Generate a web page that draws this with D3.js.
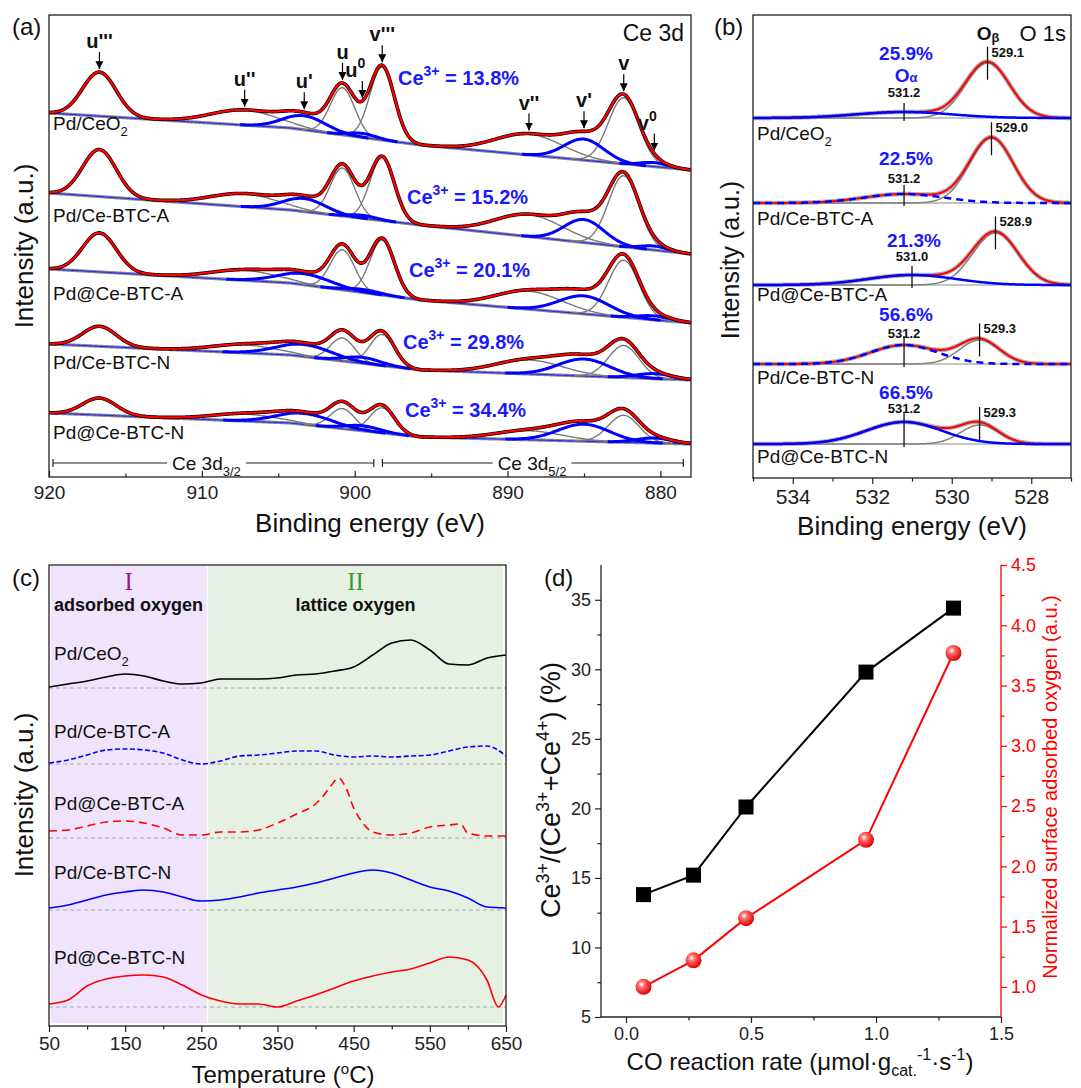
<!DOCTYPE html>
<html>
<head>
<meta charset="utf-8">
<script src="https://cdn.jsdelivr.net/npm/d3@7"></script>
<style>
  body { margin: 0; background: #fff; }
  svg text { font-family: "Liberation Sans", Arial, sans-serif; }
</style>
</head>
<body>
<svg id="fig" width="1081" height="1088"></svg>
<script>
// ---------------- data ----------------
var samples = ["Pd/CeO2", "Pd/Ce-BTC-A", "Pd@Ce-BTC-A", "Pd/Ce-BTC-N", "Pd@Ce-BTC-N"];

// (a) Ce 3d fitted peaks: centre (eV), width sigma (eV), height (a.u.)
var cePeakLabels = ["u'''", "u''", "u'", "u", "u0", "v'''", "v''", "v'", "v", "v0"];
var cePeakCenters = [916.7, 907.2, 903.3, 900.8, 899.5, 898.2, 888.6, 885.0, 882.4, 880.4];
var cePeakWidths = [1.1, 2.2, 1.4, 0.8, 0.9, 0.8, 2.2, 1.3, 1.0, 0.9];
var cePeakIsCe3 = [0, 0, 1, 0, 1, 0, 0, 1, 0, 1];
var ceHeights = [
  [44, 15, 14, 47, 4, 73, 21, 21, 66, 4],
  [47, 13, 13, 48, 3, 63, 22, 23, 71, 4],
  [39, 10, 11, 40, 3, 55, 18, 18, 57, 4],
  [20,  8, 12, 23, 6, 31, 14, 17, 32, 5],
  [17,  7, 11, 20, 5, 25,  9, 17, 27, 5]
];
var ce3Broadening = [1.0, 1.0, 1.25, 1.3, 1.3];
var ceBaselineEnergy = [920, 904.2, 895.7, 878];
var ceBaselines = [
  [364, 349, 332, 307],
  [284, 267, 252, 223],
  [208, 194, 177, 154],
  [133, 122, 107, 97],
  [64, 54, 40, 33]
];
var ce3Percent = [13.8, 15.2, 20.1, 29.8, 34.4];

// (b) O 1s fitted peaks
var oAlphaPercent = [25.9, 22.5, 21.3, 56.6, 66.5];
var oAlphaCenters = [531.2, 531.2, 531.0, 531.2, 531.2];
var oAlphaHeights = [6, 9, 10, 19, 22];
var oAlphaWidths = [1.2, 1.0, 1.1, 0.85, 0.95];
var oBetaCenters = [529.1, 529.0, 528.9, 529.3, 529.3];
var oBetaHeights = [55, 65, 52, 24, 19];
var oBetaWidths = [0.55, 0.55, 0.57, 0.5, 0.48];
var oBaselines = [360, 275, 193, 114, 34];

// (c) O2-TPD, signal above each baseline
var tprTemp = [50, 75, 100, 125, 150, 175, 200, 225, 250, 275, 300, 325, 350, 375, 400, 425, 450, 475, 500, 525, 550, 575, 600, 625, 650];
var tprTempS3 = [50, 75, 100, 125, 150, 175, 200, 225, 250, 275, 300, 325, 350, 375, 400, 410, 420, 430, 440, 450, 460, 475, 500, 525, 550, 575, 590, 600, 625, 650];
var tprTempS5 = [50, 75, 100, 125, 150, 175, 200, 225, 250, 275, 300, 325, 350, 375, 400, 425, 450, 475, 500, 525, 550, 575, 600, 625, 640, 650];
var tprS1 = [1, 4, 7, 11, 14, 12, 7, 4, 5, 9, 9, 9, 10, 13, 14, 17, 21, 33, 45, 48, 38, 24, 23, 30, 33];
var tprS2 = [1, 4, 9, 14, 15, 14, 11, 4, 0, 3, 8, 9, 11, 13, 13, 9, 7, 8, 7, 8, 9, 13, 17, 18, 8];
var tprS3 = [7, 8, 12, 16, 17, 15, 10, 3, 3, 6, 6, 8, 15, 24, 34, 42, 52, 60, 50, 30, 17, 6, 3, 5, 11, 13, 14, 5, 2, 2];
var tprS4 = [2, 5, 10, 15, 18, 20, 18, 13, 9, 10, 13, 17, 20, 23, 27, 32, 37, 40, 37, 30, 23, 19, 12, 3, 2];
var tprS5 = [3, 7, 21, 28, 31, 32, 30, 22, 12, 6, 3, 3, 0, 6, 12, 19, 26, 31, 35, 38, 44, 50, 47, 27, 0, 12];
var tprBaselines = [338, 262, 188, 116, 19];
var tprRegionBounds = [[52, 257], [259, 646]];
var tprRegionNames = ["I", "II"];
var tprRegionTitles = ["adsorbed oxygen", "lattice oxygen"];

// (d) correlation
var coRate = [0.07, 0.27, 0.48, 0.96, 1.31];
var ce3Ratio = [13.8, 15.2, 20.1, 29.8, 34.4];
var adsorbedOxygen = [1.0, 1.22, 1.57, 2.22, 3.77];

// ticks
var ceTicks = [920, 910, 900, 890, 880], ceMinor = [915, 905, 895, 885];
var oTicks = [534, 532, 530, 528], oMinor = [535, 533, 531, 529, 527];
var tprTicks = [50, 150, 250, 350, 450, 550, 650], tprMinor = [100, 200, 300, 400, 500, 600];
var rateTicks = [0.0, 0.5, 1.0, 1.5], rateMinor = [0.25, 0.75, 1.25];
var ratioTicks = [5, 10, 15, 20, 25, 30, 35], ratioMinor = [7.5, 12.5, 17.5, 22.5, 27.5, 32.5];
var oxyTicks = [1.0, 1.5, 2.0, 2.5, 3.0, 3.5, 4.0, 4.5], oxyMinor = [1.25, 1.75, 2.25, 2.75, 3.25, 3.75, 4.25];

// ---------------- helpers ----------------
var svg = d3.select("#fig");
var defs = svg.append("defs");
defs.append("marker").attr("id", "arrowA").attr("viewBox", "0 0 10 10")
  .attr("refX", 10).attr("refY", 5).attr("markerWidth", 8).attr("markerHeight", 8)
  .attr("markerUnits", "userSpaceOnUse").attr("orient", "auto")
  .append("path").attr("d", "M0,0L10,5L0,10z").attr("fill", "#000");
var grad = defs.append("radialGradient").attr("id", "ball").attr("cx", "38%").attr("cy", "35%").attr("r", "65%");
grad.append("stop").attr("offset", "0%").attr("stop-color", "#ffffff");
grad.append("stop").attr("offset", "30%").attr("stop-color", "#ff7070");
grad.append("stop").attr("offset", "100%").attr("stop-color", "#e00000");

function gauss(x, c, h, s) { var d = x - c; return h * Math.exp(-d * d / (2 * s * s)); }

function rich(sel, parts) {
  var cur = 0;
  parts.forEach(function (p) {
    var off = p.sup ? -p.sup : (p.sub ? p.sub : 0);
    var ts = sel.append("tspan").text(p.t).attr("dy", off - cur);
    if (p.size) ts.attr("font-size", p.size);
    cur = off;
  });
  return sel;
}

function sampleText(g, x, y, name, size) {
  var t = g.append("text").attr("x", x).attr("y", y).attr("font-size", size).attr("fill", "#111");
  if (name === "Pd/CeO2") rich(t, [{t: "Pd/CeO"}, {t: "2", sub: 6, size: 13}]);
  else t.text(name);
}

function axis(g, maker, scale, major, minor, size, pad, fmt, fs, color) {
  var a = g.append("g").call(maker(scale).tickValues(major).tickSize(size).tickPadding(pad).tickFormat(fmt));
  var b = g.append("g").call(maker(scale).tickValues(minor).tickSize(size * 0.6).tickFormat(""));
  [a, b].forEach(function (s) {
    s.attr("color", color);
    s.select(".domain").remove();
    s.selectAll("line").attr("stroke-width", 1.2);
  });
  a.attr("font-size", fs);
  return a;
}

function frame(x0, y0, x1, y1) {
  svg.append("rect").attr("x", x0).attr("y", y0).attr("width", x1 - x0).attr("height", y1 - y0)
    .attr("fill", "none").attr("stroke", "#222").attr("stroke-width", 1.3);
}

function vTitle(x, y, str, size, color) {
  svg.append("text").attr("transform", "translate(" + x + "," + y + ") rotate(-90)")
    .attr("text-anchor", "middle").attr("dy", "0.35em").attr("font-size", size)
    .attr("fill", color || "#111").text(str);
}

// ---------------- (a) Ce 3d ----------------
var ax = d3.scaleLinear().domain([920, 878]).range([49, 691]);
var ay = d3.scaleLinear().domain([0, 462]).range([477, 15]);
var gA = svg.append("g");
var eA = d3.range(0, 841).map(function (i) { return 920 - i * 0.05; });
var lineA = d3.line().x(function (d) { return ax(d[0]); }).y(function (d) { return ay(d[1]); });
var ceEnvelopes = [];

samples.forEach(function (name, si) {
  var base = d3.scaleLinear().domain(ceBaselineEnergy).range(ceBaselines[si]);
  var bl = eA.map(function (e) { return [e, base(e)]; });
  var comps = cePeakCenters.map(function (c, pi) {
    var s = cePeakWidths[pi] * (cePeakIsCe3[pi] ? ce3Broadening[si] : 1);
    return eA.map(function (e) { var g = gauss(e, c, ceHeights[si][pi], s); return [e, base(e) + g, g]; });
  });
  var env = eA.map(function (e, k) {
    return [e, base(e) + d3.sum(comps, function (cc) { return cc[k][2]; })];
  });
  ceEnvelopes.push(env);

  gA.append("path").datum(bl).attr("d", lineA).attr("fill", "none").attr("stroke", "#8c8c8c").attr("stroke-width", 3.2);
  gA.append("path").datum(bl).attr("d", lineA).attr("fill", "none").attr("stroke", "#2a2aff").attr("stroke-width", 1.1);
  var lineC = d3.line().defined(function (d) { return d[2] > 0.15; })
    .x(function (d) { return ax(d[0]); }).y(function (d) { return ay(d[1]); });
  comps.forEach(function (cc, pi) {
    if (cePeakIsCe3[pi]) return;
    gA.append("path").datum(cc).attr("d", lineC).attr("fill", "none").attr("stroke", "#7a7a7a").attr("stroke-width", 1.4);
  });
  comps.forEach(function (cc, pi) {
    if (!cePeakIsCe3[pi]) return;
    gA.append("path").datum(cc).attr("d", lineC).attr("fill", "none").attr("stroke", "#0000ff").attr("stroke-width", 3);
  });
  gA.append("path").datum(env).attr("d", lineA).attr("fill", "none").attr("stroke", "#000").attr("stroke-width", 3.6);
  gA.append("path").datum(env).attr("d", lineA).attr("fill", "none").attr("stroke", "#ff0000").attr("stroke-width", 2.2);
});

// peak arrows on the top spectrum
cePeakCenters.forEach(function (c, pi) {
  var k = Math.round((920 - c) / 0.05);
  var yEnd = ay(ceEnvelopes[0][k][1]) - 3;
  var x = ax(c);
  gA.append("line").attr("x1", x).attr("x2", x).attr("y1", yEnd - 17).attr("y2", yEnd)
    .attr("stroke", "#000").attr("stroke-width", 1.2).attr("marker-end", "url(#arrowA)");
  var lab = cePeakLabels[pi];
  var t = gA.append("text").attr("y", yEnd - 21)
    .attr("font-size", 20).attr("font-weight", "bold").attr("fill", "#111");
  if (lab.slice(-1) === "0") {
    t.attr("x", x - 7).attr("text-anchor", "middle");
    rich(t, [{t: lab[0]}, {t: "0", sup: 9, size: 14}]);
  } else t.attr("x", x).attr("text-anchor", "middle").text(lab);
});

var aLabelY = [123, 215, 293, 362, 432];
var aCe3Pos = [[398, 85], [407, 204], [409, 277], [403, 349], [405, 417]];
samples.forEach(function (name, si) {
  sampleText(gA, 53, aLabelY[si] + 7, name, 19);
  var t = gA.append("text").attr("x", aCe3Pos[si][0]).attr("y", aCe3Pos[si][1])
    .attr("font-size", 20).attr("font-weight", "bold").attr("fill", "#1a1aff");
  rich(t, [{t: "Ce"}, {t: "3+", sup: 9, size: 14}, {t: " = " + ce3Percent[si].toFixed(1) + "%"}]);
});

// Ce 3d3/2 / 3d5/2 brackets
[[920, 898.75, 909.7, "3/2"], [898.45, 878.5, 888.4, "5/2"]].forEach(function (b) {
  var x0 = ax(b[0]) + 4, x1 = ax(b[1]), y = 463;
  gA.append("line").attr("x1", x0).attr("x2", x1).attr("y1", y).attr("y2", y).attr("stroke", "#222").attr("stroke-width", 1.2);
  [x0, x1].forEach(function (xx) {
    gA.append("line").attr("x1", xx).attr("x2", xx).attr("y1", y - 4).attr("y2", y + 4).attr("stroke", "#222").attr("stroke-width", 1.2);
  });
  var t = gA.append("text").attr("x", ax(b[2])).attr("y", y + 7).attr("text-anchor", "middle")
    .attr("font-size", 19).attr("fill", "#111");
  rich(t, [{t: "Ce 3d"}, {t: b[3], sub: 6, size: 13}]);
  var bb = t.node().getBBox();
  gA.insert("rect", "text:last-child").attr("x", bb.x - 5).attr("y", y - 3).attr("width", bb.width + 10).attr("height", 6).attr("fill", "#fff");
});

frame(49, 15, 691, 477);
axis(svg.append("g").attr("transform", "translate(0,477)"), d3.axisBottom, ax, ceTicks, ceMinor, -6, 9, d3.format("d"), 19, "#222");
svg.append("text").attr("x", 684).attr("y", 41).attr("text-anchor", "end").attr("font-size", 23).attr("fill", "#111").text("Ce 3d");
svg.append("text").attr("x", 12).attr("y", 35).attr("font-size", 24).attr("fill", "#111").text("(a)");
vTitle(24, 246, "Intensity (a.u.)", 26);
svg.append("text").attr("x", 370).attr("y", 532).attr("text-anchor", "middle").attr("font-size", 26).attr("fill", "#111").text("Binding energy (eV)");

// ---------------- (b) O 1s ----------------
var bx = d3.scaleLinear().domain([535, 527]).range([753, 1071]);
var by = d3.scaleLinear().domain([0, 463]).range([478, 15]);
var gB = svg.append("g");
var eB = d3.range(0, 401).map(function (i) { return 535 - i * 0.02; });
var lineB = d3.line().x(function (d) { return bx(d[0]); }).y(function (d) { return by(d[1]); });
var bLabelY = [133, 218, 294, 377, 456];
var bPctY = [53, 158, 240, 314, 392];
var bNumY = [92, 178, 256, 333, 408];

samples.forEach(function (name, si) {
  var b0 = oBaselines[si];
  var alpha = eB.map(function (e) { return [e, b0 + gauss(e, oAlphaCenters[si], oAlphaHeights[si], oAlphaWidths[si])]; });
  var beta = eB.map(function (e) { return [e, b0 + gauss(e, oBetaCenters[si], oBetaHeights[si], oBetaWidths[si])]; });
  var env = eB.map(function (e, k) { return [e, alpha[k][1] + beta[k][1] - b0]; });

  gB.append("path").datum([[535, b0], [527, b0]]).attr("d", lineB).attr("stroke", "#8c8c8c").attr("stroke-width", 1.2);
  gB.append("path").datum(env).attr("d", lineB).attr("fill", "none").attr("stroke", "#b0b0b0").attr("stroke-width", 4.5);
  gB.append("path").datum(beta).attr("d", lineB).attr("fill", "none").attr("stroke", "#808080").attr("stroke-width", 1.5);
  gB.append("path").datum(env).attr("d", lineB).attr("fill", "none").attr("stroke", "#ff0000").attr("stroke-width", 2);
  var pa = gB.append("path").datum(alpha).attr("d", lineB).attr("fill", "none").attr("stroke", "#0000ff").attr("stroke-width", 2.5);
  if (si === 1 || si === 3) pa.attr("stroke-dasharray", "7,5");

  // peak markers
  var kA = Math.round((535 - oAlphaCenters[si]) / 0.02);
  var kB = Math.round((535 - oBetaCenters[si]) / 0.02);
  var xa = bx(oAlphaCenters[si]), xb = bx(oBetaCenters[si]);
  var yA = by(env[kA][1]), yB = by(env[kB][1]), yBase = by(b0);
  gB.append("line").attr("x1", xa).attr("x2", xa).attr("y1", yA - 9).attr("y2", yBase + 3).attr("stroke", "#111").attr("stroke-width", 1.3);
  var topB = yB - 15;
  gB.append("line").attr("x1", xb).attr("x2", xb).attr("y1", topB).attr("y2", Math.min(yB + 18, yBase + 3)).attr("stroke", "#111").attr("stroke-width", 1.3);
  gB.append("text").attr("x", xb + 4).attr("y", topB + 10).attr("font-size", 13).attr("font-weight", "bold").attr("fill", "#111")
    .text(oBetaCenters[si].toFixed(1));
  gB.append("text").attr("x", xa).attr("y", bNumY[si] + 5).attr("text-anchor", "middle").attr("font-size", 13).attr("font-weight", "bold").attr("fill", "#111")
    .text(oAlphaCenters[si].toFixed(1));
  gB.append("text").attr("x", xa + 2).attr("y", bPctY[si] + 7).attr("text-anchor", "middle").attr("font-size", 19).attr("font-weight", "bold").attr("fill", "#1a1aff")
    .text(oAlphaPercent[si].toFixed(1) + "%");
  sampleText(gB, 757, bLabelY[si] + 7, name, 19);
});
var ta = gB.append("text").attr("x", bx(531.2) + 2).attr("y", 82).attr("text-anchor", "middle").attr("font-size", 19).attr("font-weight", "bold").attr("fill", "#1a1aff");
rich(ta, [{t: "O"}, {t: "α", size: 13}]);
var tb = gB.append("text").attr("x", 988).attr("y", 40).attr("text-anchor", "middle").attr("font-size", 19).attr("font-weight", "bold").attr("fill", "#111");
rich(tb, [{t: "O"}, {t: "β", sub: 2, size: 13}]);
svg.append("text").attr("x", 1066).attr("y", 41).attr("text-anchor", "end").attr("font-size", 22).attr("fill", "#111").text("O 1s");

frame(753, 15, 1071, 478);
axis(svg.append("g").attr("transform", "translate(0,478)"), d3.axisBottom, bx, oTicks, oMinor, 6, 5, d3.format("d"), 21, "#222");
svg.append("text").attr("x", 714).attr("y", 35).attr("font-size", 24).attr("fill", "#111").text("(b)");
vTitle(730, 260, "Intensity (a.u.)", 25);
svg.append("text").attr("x", 912).attr("y", 535).attr("text-anchor", "middle").attr("font-size", 26).attr("fill", "#111").text("Binding energy (eV)");

// ---------------- (c) O2-TPD ----------------
var cx = d3.scaleLinear().domain([50, 650]).range([49, 506]);
var cy = d3.scaleLinear().domain([0, 461]).range([1026, 565]);
var gC = svg.append("g");
var regionFill = ["#efe4fb", "#e6f0e3"];
var regionColor = ["#8b1c8b", "#3c9a32"];
tprRegionBounds.forEach(function (r, i) {
  gC.append("rect").attr("x", cx(r[0])).attr("y", 566).attr("width", cx(r[1]) - cx(r[0])).attr("height", 457).attr("fill", regionFill[i]);
  var xm = cx((r[0] + r[1]) / 2);
  gC.append("text").attr("x", xm).attr("y", 590).attr("text-anchor", "middle").attr("font-size", 25)
    .style("font-family", '"Liberation Serif", "Times New Roman", serif').attr("fill", regionColor[i]).text(tprRegionNames[i]);
  gC.append("text").attr("x", xm).attr("y", 611).attr("text-anchor", "middle").attr("font-size", 18).attr("font-weight", "bold")
    .attr("fill", "#111").text(tprRegionTitles[i]);
});

var tprTemps = [tprTemp, tprTemp, tprTempS3, tprTemp, tprTempS5];
var tprValues = [tprS1, tprS2, tprS3, tprS4, tprS5];
var tprColors = ["#000000", "#0000ff", "#ff0000", "#0000ff", "#ff0000"];
var tprDash = [null, "5,2.5", "8,5", null, null];
var cLabelY = [653, 731, 803, 872, 957];
var lineTpr = d3.line().curve(d3.curveMonotoneX).x(function (d) { return cx(d[0]); }).y(function (d) { return cy(d[1]); });
samples.forEach(function (name, si) {
  var b0 = tprBaselines[si];
  gC.append("line").attr("x1", cx(50)).attr("x2", cx(650)).attr("y1", cy(b0)).attr("y2", cy(b0))
    .attr("stroke", "#aaa").attr("stroke-width", 1).attr("stroke-dasharray", "4,3");
  var pts = tprTemps[si].map(function (t, k) { return [t, b0 + tprValues[si][k]]; });
  var p = gC.append("path").datum(pts).attr("d", lineTpr).attr("fill", "none")
    .attr("stroke", tprColors[si]).attr("stroke-width", 1.6);
  if (tprDash[si]) p.attr("stroke-dasharray", tprDash[si]);
  sampleText(gC, 54, cLabelY[si] + 7, name, 19);
});

frame(49, 565, 506, 1026);
axis(svg.append("g").attr("transform", "translate(0,1026)"), d3.axisBottom, cx, tprTicks, tprMinor, 6, 5, d3.format("d"), 19, "#222");
svg.append("text").attr("x", 12).attr("y", 586).attr("font-size", 24).attr("fill", "#111").text("(c)");
vTitle(24, 795, "Intensity (a.u.)", 26);
var tT = svg.append("text").attr("x", 283).attr("y", 1083).attr("text-anchor", "middle").attr("font-size", 24).attr("fill", "#111");
rich(tT, [{t: "Temperature ("}, {t: "o", sup: 9, size: 15}, {t: "C)"}]);

// ---------------- (d) correlation ----------------
var dx = d3.scaleLinear().domain([-0.1, 1.5]).range([601, 1001]);
var dyL = d3.scaleLinear().domain([5, 37.5]).range([1017, 565]);
var dyR = d3.scaleLinear().domain([0.75, 4.5]).range([1017, 565]);
var gD = svg.append("g");

gD.append("line").attr("x1", 601).attr("x2", 601).attr("y1", 565).attr("y2", 1017).attr("stroke", "#222").attr("stroke-width", 1.3);
gD.append("line").attr("x1", 601).attr("x2", 1001).attr("y1", 1017).attr("y2", 1017).attr("stroke", "#222").attr("stroke-width", 1.3);
gD.append("line").attr("x1", 1001).attr("x2", 1001).attr("y1", 565).attr("y2", 1017).attr("stroke", "#ff0000").attr("stroke-width", 1.3);
axis(svg.append("g").attr("transform", "translate(0,1017)"), d3.axisBottom, dx, rateTicks, rateMinor, 6, 4, d3.format(".1f"), 18, "#222");
axis(svg.append("g").attr("transform", "translate(601,0)"), d3.axisLeft, dyL, ratioTicks, ratioMinor, 6, 4, d3.format("d"), 18, "#222");
axis(svg.append("g").attr("transform", "translate(1001,0)"), d3.axisRight, dyR, oxyTicks, oxyMinor, 6, 4, d3.format(".1f"), 18, "#ff0000");

var ptsL = coRate.map(function (r, i) { return [r, ce3Ratio[i]]; });
var ptsR = coRate.map(function (r, i) { return [r, adsorbedOxygen[i]]; });
gD.append("path").datum(ptsL).attr("fill", "none").attr("stroke", "#000").attr("stroke-width", 2)
  .attr("d", d3.line().x(function (d) { return dx(d[0]); }).y(function (d) { return dyL(d[1]); }));
gD.append("path").datum(ptsR).attr("fill", "none").attr("stroke", "#ff0000").attr("stroke-width", 2)
  .attr("d", d3.line().x(function (d) { return dx(d[0]); }).y(function (d) { return dyR(d[1]); }));
gD.selectAll("rect.sq").data(ptsL).enter().append("rect").attr("class", "sq")
  .attr("x", function (d) { return dx(d[0]) - 7.5; }).attr("y", function (d) { return dyL(d[1]) - 7.5; })
  .attr("width", 15).attr("height", 15).attr("fill", "#000");
gD.selectAll("circle.ball").data(ptsR).enter().append("circle").attr("class", "ball")
  .attr("cx", function (d) { return dx(d[0]); }).attr("cy", function (d) { return dyR(d[1]); })
  .attr("r", 8).attr("fill", "url(#ball)");

svg.append("text").attr("x", 544).attr("y", 586).attr("font-size", 24).attr("fill", "#111").text("(d)");
var tl = svg.append("text").attr("transform", "translate(560,790) rotate(-90)").attr("text-anchor", "middle")
  .attr("font-size", 27).attr("fill", "#111");
rich(tl, [{t: "Ce"}, {t: "3+", sup: 11, size: 18}, {t: "/(Ce"}, {t: "3+", sup: 11, size: 18}, {t: "+Ce"}, {t: "4+", sup: 11, size: 18}, {t: ") (%)"}]);
vTitle(1050, 787, "Normalized surface adsorbed oxygen (a.u.)", 20, "#ff0000");
var tx = svg.append("text").attr("x", 800).attr("y", 1070).attr("text-anchor", "middle").attr("font-size", 24).attr("fill", "#111");
rich(tx, [{t: "CO reaction rate (\u03bcmol\u00b7g"}, {t: "cat.", sub: 6, size: 16}, {t: "-1", sup: 10, size: 16}, {t: "\u00b7s"}, {t: "-1", sup: 10, size: 16}, {t: ")"}]);
</script>
</body>
</html>
